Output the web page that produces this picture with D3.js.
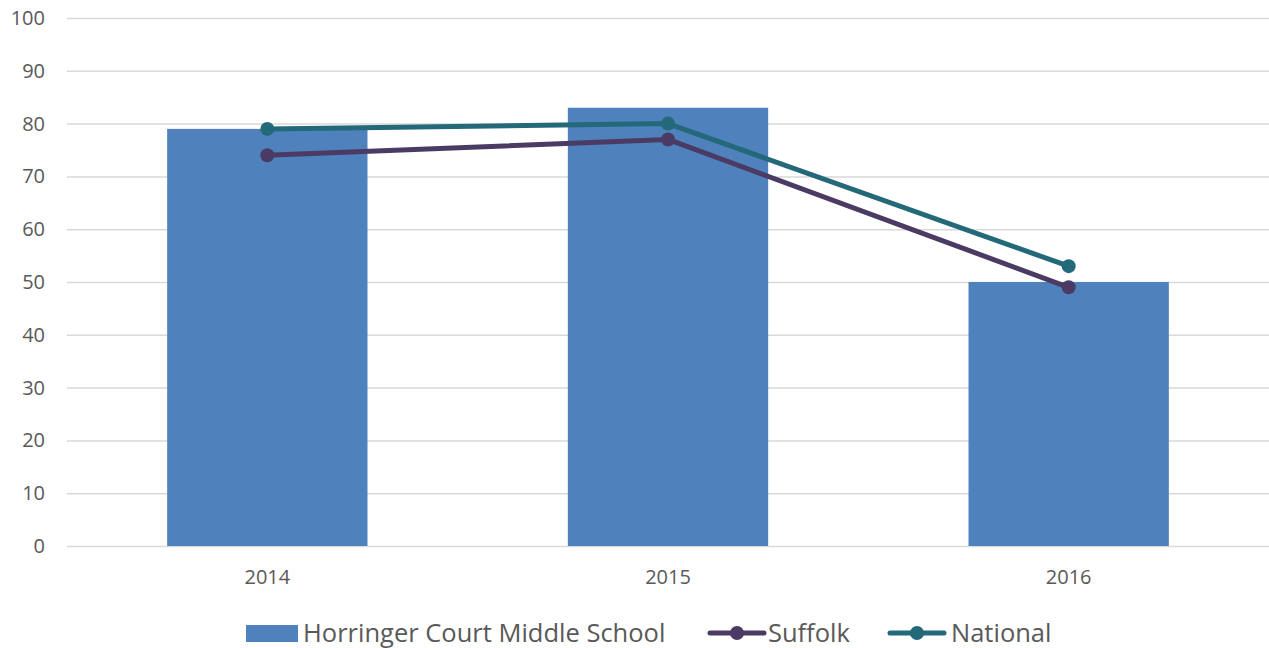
<!DOCTYPE html>
<html><head><meta charset="utf-8">
<script src="https://cdn.jsdelivr.net/npm/d3@7"></script>
<style>body{margin:0;background:#fff;}svg{display:block;}</style>
</head><body>
<svg id="c" width="1269" height="648"></svg>
<script>
const categories = ["2014", "2015", "2016"];
const schoolValues = [79, 83, 50];
const suffolkValues = [74, 77, 49];
const nationalValues = [79, 80, 53];
const yTicks = [0, 10, 20, 30, 40, 50, 60, 70, 80, 90, 100];
const seriesNames = ["Horringer Court Middle School", "Suffolk", "National"];

(function () {
const svg = d3.select("#c");
const font = "'Open Sans', Lato, sans-serif";
const pLeft = 67, pRight = 1269, pTop = 18, pBottom = 546;
const x = d3.scaleBand().domain(categories).range([pLeft, pRight]).paddingInner(0.5).paddingOuter(0.25);
const xp = d3.scalePoint().domain(categories).range([pLeft, pRight]).padding(0.5);
const y = d3.scaleLinear().domain([0, 100]).range([pBottom, pTop]);

const colors = {bar: "#4F81BD", suffolk: "#4B3B64", national: "#24697A"};

// grid
svg.append("g").selectAll("line").data(yTicks).join("line")
  .attr("x1", pLeft).attr("x2", pRight)
  .attr("y1", d => y(d) + 0.5).attr("y2", d => y(d) + 0.5)
  .attr("stroke", "#d9d9d9").attr("stroke-width", 1.5);

// y labels
svg.append("g").selectAll("text").data(yTicks).join("text")
  .attr("x", 45).attr("y", d => y(d)).attr("dy", "0.35em")
  .attr("text-anchor", "end").attr("font-family", font).attr("font-size", 20)
  .attr("fill", "#595959").text(d => d);

// bars
svg.append("g").selectAll("rect").data(categories).join("rect")
  .attr("x", d => x(d)).attr("width", x.bandwidth())
  .attr("y", (d, i) => y(schoolValues[i])).attr("height", (d, i) => y(0) - y(schoolValues[i]))
  .attr("fill", colors.bar);

// x labels
svg.append("g").selectAll("text").data(categories).join("text")
  .attr("x", d => xp(d)).attr("y", 584).attr("text-anchor", "middle")
  .attr("font-family", font).attr("font-size", 20).attr("fill", "#595959").text(d => d);

function drawLine(vals, color) {
  const line = d3.line().x((d, i) => xp(categories[i])).y(d => y(d));
  svg.append("path").datum(vals).attr("d", line).attr("fill", "none")
    .attr("stroke", color).attr("stroke-width", 5).attr("stroke-linejoin", "round").attr("stroke-linecap", "round");
  svg.append("g").selectAll("circle").data(vals).join("circle")
    .attr("cx", (d, i) => xp(categories[i])).attr("cy", d => y(d)).attr("r", 7).attr("fill", color);
}
drawLine(suffolkValues, colors.suffolk);
drawLine(nationalValues, colors.national);

// legend
const ly = 633;
const lg = svg.append("g").attr("font-family", font).attr("font-size", 25.5).attr("fill", "#595959");
lg.append("rect").attr("x", 246).attr("y", ly - 8).attr("width", 52).attr("height", 17).attr("fill", colors.bar);
lg.append("text").attr("x", 303).attr("y", ly).attr("dy", "0.35em").attr("fill", "#595959").text(seriesNames[0]);
[[710, colors.suffolk, seriesNames[1], 768], [890, colors.national, seriesNames[2], 951]].forEach(([lx, c, t, tx]) => {
  lg.append("line").attr("x1", lx).attr("x2", lx + 54).attr("y1", ly).attr("y2", ly)
    .attr("stroke", c).attr("stroke-width", 5).attr("stroke-linecap", "round");
  lg.append("circle").attr("cx", lx + 27).attr("cy", ly).attr("r", 7).attr("fill", c);
  lg.append("text").attr("x", tx).attr("y", ly).attr("dy", "0.35em").attr("fill", "#595959").text(t);
});
})();
</script>
</body></html>
